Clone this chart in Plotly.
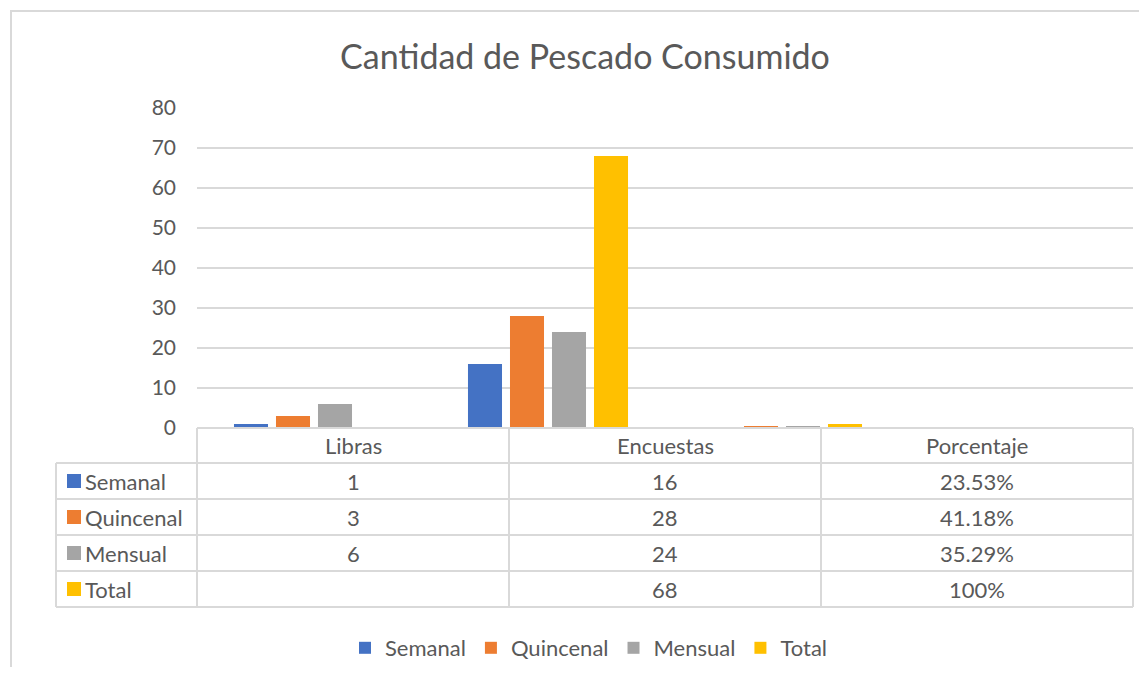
import plotly.graph_objects as go

# data
categories = ["Libras", "Encuestas", "Porcentaje"]
series_names = ["Semanal", "Quincenal", "Mensual", "Total"]
semanal = [1, 16, 0.2353]
quincenal = [3, 28, 0.4118]
mensual = [6, 24, 0.3529]
total = [None, 68, 1.0]
y_ticks = [0, 10, 20, 30, 40, 50, 60, 70, 80]

colors = ["#4472C4", "#ED7D31", "#A5A5A5", "#FFC000"]
text_color = "#595959"
line_color = "#D9D9D9"
font = "Lato"

# page has an 8px body margin, figure is drawn inside it
OFF = 8
W, H = 1147 - 2 * OFF, 675 - 2 * OFF
# plot area in screen pixels
L, R, T, B = 197, 1133, 108, 428


def px(x):
    return (x - L) / (R - L)


def py(y):
    return (B - y) / (B - T)


def fmt(value, col):
    if value is None:
        return ""
    if col == 2:
        s = f"{value * 100:.2f}"
        if s.endswith(".00"):
            s = s[:-3]
        return s + "%"
    return f"{value:g}"


all_series = [semanal, quincenal, mensual, total]

fig = go.Figure()
for name, vals, c in zip(series_names, all_series, colors):
    fig.add_trace(go.Bar(x=categories, y=vals, name=name, marker_color=c,
                         marker_line_width=0))

shapes = []
annotations = []
txt = dict(size=22, color=text_color, family=font)

# outer chart border
shapes.append(dict(type="rect", xref="paper", yref="paper",
                   x0=px(11), x1=px(1200), y0=py(11), y1=py(720),
                   line=dict(color=line_color, width=2), layer="below"))

# data table grid
n_cols = len(categories)
col_w = (R - L) / n_cols
header_top, header_bot = 428, 463
row_h = 36
row_tops = [header_bot + row_h * i for i in range(len(series_names) + 1)]
table_left = 56

shapes.append(dict(type="line", xref="paper", yref="paper",
                   x0=px(L), x1=px(R), y0=py(header_top), y1=py(header_top),
                   line=dict(color=line_color, width=2)))
for y in row_tops:
    shapes.append(dict(type="line", xref="paper", yref="paper",
                       x0=px(table_left), x1=px(R), y0=py(y), y1=py(y),
                       line=dict(color=line_color, width=2)))
shapes.append(dict(type="line", xref="paper", yref="paper",
                   x0=px(table_left), x1=px(table_left),
                   y0=py(header_bot), y1=py(row_tops[-1]),
                   line=dict(color=line_color, width=2)))
for i in range(n_cols + 1):
    x = L + col_w * i
    shapes.append(dict(type="line", xref="paper", yref="paper",
                       x0=px(x), x1=px(x), y0=py(header_top), y1=py(row_tops[-1]),
                       line=dict(color=line_color, width=2)))

# header labels
for i, cat in enumerate(categories):
    annotations.append(dict(xref="paper", yref="paper", x=px(L + col_w * (i + 0.5)),
                            y=py((header_top + header_bot) / 2), text=cat,
                            xanchor="center", yanchor="middle",
                            showarrow=False, font=txt))

# rows: legend key + values
for r, (name, vals, c) in enumerate(zip(series_names, all_series, colors)):
    yc = row_tops[r] + row_h / 2
    shapes.append(dict(type="rect", xref="paper", yref="paper",
                       x0=px(67), x1=px(81), y0=py(yc - 7), y1=py(yc + 7),
                       fillcolor=c, line_width=0))
    annotations.append(dict(xref="paper", yref="paper", x=px(83), y=py(yc),
                            xanchor="left", yanchor="middle", text=name,
                            showarrow=False, font=txt))
    for i, v in enumerate(vals):
        annotations.append(dict(xref="paper", yref="paper",
                                x=px(L + col_w * (i + 0.5)), y=py(yc),
                                xanchor="center", yanchor="middle",
                                text=fmt(v, i), showarrow=False, font=txt))

fig.update_layout(
    width=W, height=H,
    margin=dict(l=L - OFF, r=W - (R - OFF), t=T - OFF, b=H - (B - OFF)),
    paper_bgcolor="white", plot_bgcolor="white",
    title=dict(text="Cantidad de Pescado Consumido", x=(585 - OFF) / W,
               xanchor="center", y=1 - (57 - OFF) / H, yanchor="middle",
               font=dict(size=34, color=text_color, family=font)),
    barmode="group", bargap=0.282, bargroupgap=0.19,
    legend=dict(orientation="h", xref="container", yref="container",
                x=(589 - OFF) / W, xanchor="center", y=1 - (648 - OFF) / H,
                yanchor="middle", font=txt),
    shapes=shapes, annotations=annotations,
    font=dict(family=font, color=text_color),
)
fig.update_xaxes(type="category", range=[-0.5, 3.5], showticklabels=False,
                 showgrid=False, showline=False, zeroline=False)
fig.update_yaxes(range=[0, 80], tickvals=y_ticks, showgrid=True,
                 gridcolor=line_color, gridwidth=2, zeroline=False, showline=False,
                 tickfont=dict(size=21, color=text_color, family=font),
                 ticklabelstandoff=20)

fig.write_html("out.html")
